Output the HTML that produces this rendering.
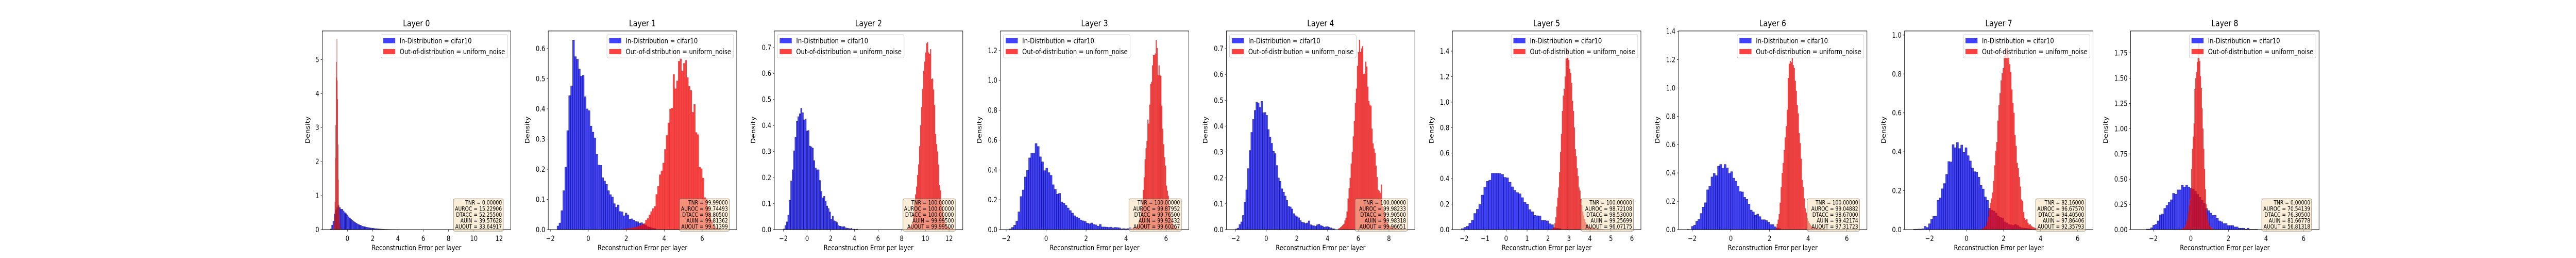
<!DOCTYPE html>
<html><head><meta charset="utf-8"><title>Reconstruction error per layer</title>
<style>
html,body{margin:0;padding:0;background:#fff;width:100%;height:100%;overflow:hidden;}
svg{display:block;width:100vw;height:100vh;font-family:"DejaVu Sans","Liberation Sans",sans-serif;}
</style></head>
<body>
<svg id="fig" viewBox="0 0 6000 500" preserveAspectRatio="none" xmlns="http://www.w3.org/2000/svg"></svg>
<script>
// ---- data (densities) ----
const layerTitles = ["Layer 0","Layer 1","Layer 2","Layer 3","Layer 4","Layer 5","Layer 6","Layer 7","Layer 8"];
const inStart = [-1.35,-1.65,-2.0,-1.84,-2.0,-2.14,-2.27,-2.87,-2.38];
const inWidth = [0.1,0.1025,0.121,0.107,0.11,0.119,0.1126,0.116,0.1166];
const outStart = [-1.09,1.82,8.37,4.233,4.69,2.175,2.32,0.797,-0.59];
const outWidth = [0.031,0.091,0.0846,0.0465,0.068,0.0443,0.052,0.058,0.0434];

const in0 = [.02,.13,.25,.46,.58,.65,.70,.65,.60,.60,.55,.50,.47,.43,.38,.34,.30,.27,.24,.22,.19,.17,.15,.13,.12,.10,.09,.08,.07,.065,.06,.05,.045,.04,.035,.03,.03,.025,.02,.02,.015,.012,.01,.008,.008,.007,.006,.006,.005,.005,.005,.004,.004,.004];
const out0 = [.05,.2,.4,.82,2.1,3.07,4.47,4.93,5.6,4.38,3.83,2.5,1.47,.73,.43,.18,.08,.03];
const in1 = [.012,.022,.063,.129,.207,.328,.444,.476,.627,.573,.564,.532,.508,.511,.440,.400,.394,.343,.323,.304,.250,.214,.213,.172,.161,.150,.129,.116,.108,.086,.074,.082,.060,.059,.046,.055,.049,.034,.036,.032,.027,.026,.021,.023,.019,.015,.01,.008,.006,.004,.003];
const out1 = [.002,.003,.003,.004,.005,.006,.007,.008,.010,.012,.015,.017,.020,.032,.037,.049,.06,.07,.077,.117,.144,.182,.195,.221,.266,.312,.354,.40,.403,.514,.467,.493,.558,.566,.525,.551,.561,.504,.475,.461,.389,.415,.322,.315,.207,.202,.171,.106,.102,.077,.055,.032,.015,.006,.003,.002,.001];
const in2 = [.003,.016,.03,.056,.113,.187,.23,.303,.356,.416,.434,.445,.466,.449,.422,.425,.379,.381,.321,.318,.313,.265,.237,.23,.23,.189,.147,.122,.128,.11,.091,.081,.068,.04,.052,.034,.032,.027,.016,.013,.012,.011,.012,.007,.005,.005,.003,.005,.001,.002,.001,.002];
const out2 = [.002,.003,.006,.008,.012,.018,.03,.06,.1,.135,.165,.21,.25,.32,.40,.47,.54,.61,.645,.68,.715,.72,.68,.674,.693,.578,.58,.538,.477,.367,.328,.30,.25,.17,.15,.11,.077,.05,.035,.022,.015,.01,.008,.005,.004,.003,.002,.002];
const in3 = [.005,.015,.03,.058,.119,.222,.266,.353,.399,.481,.513,.513,.577,.557,.488,.454,.395,.412,.382,.364,.301,.27,.238,.243,.186,.176,.163,.145,.128,.111,.093,.084,.078,.065,.059,.054,.044,.039,.045,.035,.032,.023,.035,.018,.018,.017,.015,.017,.012,.015,.014,.012,.005,.007,.005,.007,.014];
const out3 = [.005,.006,.008,.01,.013,.017,.022,.03,.04,.06,.09,.14,.2,.266,.35,.47,.545,.595,.737,.71,.837,.975,.99,1.1,1.168,1.17,1.18,1.27,1.217,1.035,1.1,1.035,1.03,.83,.675,.572,.485,.428,.295,.26,.226,.157,.12,.08,.055,.035,.022,.015,.01,.007,.005,.003,.002];
const in4 = [.003,.006,.02,.03,.055,.107,.154,.236,.306,.376,.426,.461,.493,.49,.472,.496,.452,.453,.442,.387,.358,.334,.303,.294,.248,.2,.187,.158,.145,.13,.113,.09,.088,.08,.062,.054,.05,.046,.035,.029,.027,.024,.026,.034,.019,.016,.015,.013,.019,.021,.016,.014,.009,.011,.012,.009,.007,.004,.003];
const out4 = [.004,.006,.01,.013,.018,.022,.035,.046,.07,.12,.16,.2,.255,.3,.36,.42,.49,.545,.633,.686,.733,.686,.70,.709,.601,.603,.649,.63,.553,.497,.483,.479,.39,.333,.313,.297,.247,.203,.154,.15,.142,.174,.09,.08,.068,.05,.037,.025,.018,.015,.012,.01,.008,.007,.005,.005,.004,.003,.003,.002,.002,.002,.002,.001];
const in5 = [.008,.018,.026,.051,.073,.127,.16,.197,.271,.334,.379,.388,.442,.442,.442,.44,.433,.41,.406,.372,.336,.308,.291,.281,.251,.213,.201,.157,.14,.112,.109,.107,.073,.073,.069,.046,.039,.015,.011,.008];
const out5 = [.005,.01,.017,.05,.1,.18,.25,.33,.45,.61,.75,.93,1.05,1.1,1.2,1.34,1.40,1.42,1.33,1.26,1.23,1.15,1.01,.93,.8,.63,.575,.48,.42,.33,.305,.24,.19,.14,.11,.085,.06,.045,.035,.028,.024,.02,.017,.014,.012,.01,.009,.008,.007,.006,.005,.005,.004,.003,.003,.002,.002];
const in6 = [.002,.001,.023,.032,.06,.074,.114,.159,.19,.281,.306,.372,.397,.381,.448,.46,.434,.46,.436,.397,.409,.364,.342,.308,.269,.266,.228,.214,.181,.138,.125,.102,.11,.092,.07,.07,.064,.053,.036,.036,.02,.012,.008];
const out6 = [.01,.04,.07,.11,.19,.3,.4,.47,.56,.65,.73,.846,1.07,1.17,1.19,1.18,1.21,1.16,1.14,1.05,.98,.88,.82,.68,.61,.5,.35,.3,.22,.15,.12,.08,.06,.045,.035,.025,.02,.017,.015,.012,.01,.009,.008,.007,.006,.005,.004,.003,.003,.002,.002];
const in7 = [.002,.002,.003,.003,.005,.017,.011,.03,.054,.068,.069,.151,.163,.21,.237,.284,.35,.348,.437,.421,.448,.417,.435,.397,.421,.38,.353,.317,.298,.296,.27,.227,.209,.168,.151,.11,.10,.095,.085,.07,.062,.06,.04,.035,.027,.025,.022,.027,.022,.014,.01,.008,.007,.005,.003];
const out7 = [.003,.006,.01,.015,.02,.04,.065,.1,.135,.16,.19,.25,.33,.405,.45,.56,.64,.7,.767,.803,.83,.89,.92,.93,.935,.9,.85,.81,.72,.65,.6,.485,.43,.343,.315,.27,.221,.155,.148,.09,.06,.05,.054,.035,.025,.028,.02,.015,.012,.01,.008,.006,.004];
const in8 = [.005,.005,.019,.044,.053,.087,.147,.155,.211,.24,.269,.296,.36,.351,.394,.394,.44,.423,.441,.423,.41,.40,.38,.35,.32,.29,.26,.21,.189,.164,.141,.143,.112,.087,.078,.061,.061,.041,.041,.041,.027,.027,.014,.014,.014,.005,.014,.003,.003,.003,.003];
const out8 = [.003,.004,.005,.01,.014,.02,.03,.05,.08,.11,.17,.24,.3,.4,.6,.8,.92,1.05,1.39,1.5,1.56,1.66,1.74,1.87,1.67,1.52,1.4,1.2,1.0,.8,.6,.4,.25,.15,.095,.061,.04,.028,.02,.013,.008,.005,.003];
const inSeries = [in0,in1,in2,in3,in4,in5,in6,in7,in8];
const outSeries = [out0,out1,out2,out3,out4,out5,out6,out7,out8];

// axis limits and ticks
const xMin = [-1.99,-2.11,-2.77,-2.29,-2.6,-2.56,-2.71,-3.35,-3.21];
const xMax = [12.91,7.82,13.16,7.14,9.69,6.43,7.04,6.83,6.82];
const yMax = [5.84,0.658,0.763,1.331,0.768,1.558,1.402,1.021,1.968];
const xTicks = [[0,2,4,6,8,10,12],[-2,0,2,4,6],[-2,0,2,4,6,8,10,12],[-2,0,2,4,6],[-2,0,2,4,6,8],[-2,-1,0,1,2,3,4,5,6],[-2,0,2,4,6],[-2,0,2,4,6],[-2,0,2,4,6]];
const yTicks = [[0,1,2,3,4,5],[0,.1,.2,.3,.4,.5,.6],[0,.1,.2,.3,.4,.5,.6,.7],[0,.2,.4,.6,.8,1.0,1.2],[0,.1,.2,.3,.4,.5,.6,.7],[0,.2,.4,.6,.8,1.0,1.2,1.4],[0,.2,.4,.6,.8,1.0,1.2,1.4],[0,.2,.4,.6,.8,1.0],[0,.25,.5,.75,1.0,1.25,1.5,1.75]];
const yDecimals = [0,1,1,1,1,1,1,1,2];
const legendLoc = ["right","right","left","left","left","right","right","right","right"];
const statTNR = ["0.00000","99.99000","100.00000","100.00000","100.00000","100.00000","100.00000","82.16000","0.00000"];
const statAUROC = ["15.22906","99.74493","100.00000","99.87952","99.98233","98.72108","99.04882","96.67570","70.54139"];
const statDTACC = ["52.25500","98.80500","100.00000","99.76500","99.90500","98.53000","98.67000","94.40500","76.30500"];
const statAUIN = ["39.57628","99.81362","99.99500","99.92432","99.98318","99.25699","99.42174","97.86406","81.66778"];
const statAUOUT = ["33.64917","99.51399","99.99500","99.60267","99.96651","96.07175","97.31723","92.35793","56.81318"];

// ---- layout ----
const NS = "http://www.w3.org/2000/svg";
const svg = document.getElementById("fig");
const AX_LEFT0 = 750.5, PITCH = 526.5, AX_W = 439, AX_TOP = 60, AX_BOT = 445;
function mk(tag, attrs, parent){ const e=document.createElementNS(NS,tag); for(const k in attrs) e.setAttribute(k,attrs[k]); (parent||svg).appendChild(e); return e; }
function fmt(v,d){ let s=v.toFixed(d); if(v<0) s="\u2212"+(-v).toFixed(d); return s; }

for(let p=0;p<9;p++){
  const L = AX_LEFT0 + p*PITCH, R = L + AX_W;
  const sx = v => L + (v - xMin[p])/(xMax[p]-xMin[p])*AX_W;
  const sy = v => AX_BOT - v/yMax[p]*(AX_BOT-AX_TOP);
  const g = mk("g",{});
  
  

  const clipId = "clip"+p;
  const cp = mk("clipPath",{id:clipId},g);
  mk("rect",{x:L,y:AX_TOP,width:AX_W,height:AX_BOT-AX_TOP},cp);
  const bars = mk("g",{"clip-path":"url(#"+clipId+")"},g);

  const gin = mk("g",{},bars);
  
  
  inSeries[p].forEach((v,i)=>{
    const x0 = inStart[p]+i*inWidth[p], x1 = x0+inWidth[p];
    const r = mk("rect",{x:sx(x0),y:sy(v),width:Math.max(0.3,sx(x1)-sx(x0)),height:AX_BOT-sy(v),fill:"rgba(0,0,255,0.75)",stroke:"rgba(0,0,0,0.7)","stroke-width":0.6},gin);
    
    
  });
  const gout = mk("g",{},bars);
  
  
  outSeries[p].forEach((v,i)=>{
    const x0 = outStart[p]+i*outWidth[p], x1 = x0+outWidth[p];
    const r = mk("rect",{x:sx(x0),y:sy(v),width:Math.max(0.3,sx(x1)-sx(x0)),height:AX_BOT-sy(v),fill:"rgba(255,0,0,0.75)",stroke:"rgba(120,60,60,0.45)","stroke-width":0.5},gout);
    
    
  });

  const frame = mk("rect",{x:L,y:AX_TOP,width:AX_W,height:AX_BOT-AX_TOP,fill:"none",stroke:"#000","stroke-width":1},g);
  
  

  xTicks[p].forEach(t=>{
    const x = sx(t);
    mk("line",{x1:x,y1:AX_BOT,x2:x,y2:AX_BOT+3.5,stroke:"#000","stroke-width":0.8},g);
    const tx = mk("text",{x:x,y:467,"text-anchor":"middle","font-size":13.9,fill:"#000"},g);
    tx.textContent = fmt(t,0);
    
    
  });
  const yLabelW = [10,25,25,25,25,25,25,25,34];
  yTicks[p].forEach(t=>{
    const y = sy(t);
    mk("line",{x1:L-3.5,y1:y,x2:L,y2:y,stroke:"#000","stroke-width":0.8},g);
    const ty = mk("text",{x:L-7,y:y+5,"text-anchor":"end","font-size":13.9,fill:"#000"},g);
    ty.textContent = fmt(t,yDecimals[p]);
    
    
  });
  const yl = L-7-yLabelW[p]-12;
  const ylab = mk("text",{x:yl,y:252,"text-anchor":"middle","font-size":13.9,transform:"rotate(-90 "+yl+" 252)",fill:"#000"},g);
  ylab.textContent = "Density";
  
  
  const xlab = mk("text",{x:L+AX_W/2,y:485,"text-anchor":"middle","font-size":13.9,fill:"#000"},g);
  xlab.textContent = "Reconstruction Error per layer";
  
  
  const title = mk("text",{x:L+AX_W/2,y:51,"text-anchor":"middle","font-size":16.7,fill:"#000"},g);
  title.textContent = layerTitles[p];
  
  

  const lw = 295, lh = 45;
  const lx = legendLoc[p]==="right" ? R-7.3-lw : L+7.3, ly = 67.3;
  const lg = mk("g",{},g);
  
  
  mk("rect",{x:lx,y:ly,width:lw,height:lh,rx:3,fill:"rgba(255,255,255,0.8)",stroke:"#cccccc","stroke-width":1},lg);
  const ent = [["rgba(0,0,255,0.75)","In-Distribution = cifar10",79],["rgba(255,0,0,0.75)","Out-of-distribution = uniform_noise",100]];
  ent.forEach((e,i)=>{
    const le = mk("g",{},lg);
    
    
    mk("rect",{x:lx+5.3,y:e[2]-5,width:28,height:10,fill:e[0]},le);
    const t = mk("text",{x:lx+43.7,y:e[2]+5,"font-size":13.9,fill:"#000"},le);
    t.textContent = e[1];
  });

  const sg = mk("g",{},g);
  
  
  const boxR = R-17.3, boxB = 448, boxT = 385.3;
  const wide = statTNR[p].length>8 || statAUROC[p].length>8;
  const bw = wide ? 122 : 116;
  mk("rect",{x:boxR-bw,y:boxT,width:bw,height:boxB-boxT,rx:3,fill:"rgba(245,222,179,0.5)",stroke:"rgba(100,90,70,0.6)","stroke-width":1.2},sg);
  const lines = ["TNR = "+statTNR[p],"AUROC = "+statAUROC[p],"DTACC = "+statDTACC[p],"AUIN = "+statAUIN[p],"AUOUT = "+statAUOUT[p]];
  lines.forEach((s,i)=>{
    const t = mk("text",{x:boxR-3.3,y:396.7+i*11.6,"text-anchor":"end","font-size":11.1,fill:"#000"},sg);
    t.textContent = s;
    
    
  });
}
</script>
</body></html>
